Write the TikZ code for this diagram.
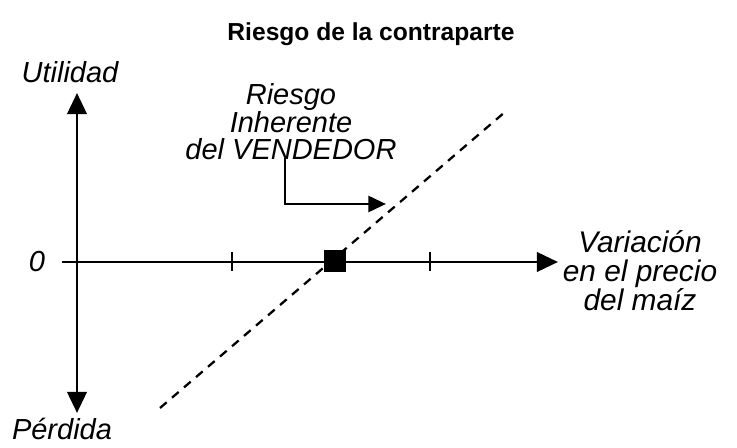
\documentclass[tikz,border=0pt]{standalone}
\usepackage{fontspec}
\setmainfont{Liberation Sans}
\usetikzlibrary{arrows.meta}
\tikzset{
  lbl/.style={font=\fontsize{16.5}{15}\selectfont\itshape,align=center,inner sep=0pt},
  axis/.style={line width=1.7pt},
}
\begin{document}
\begin{tikzpicture}[x=0.02cm,y=-0.02cm,>={Triangle[length=12pt,width=11pt]}]
  \useasboundingbox (0,0) rectangle (737,448);
  \node[font=\fontsize{14}{16}\selectfont\bfseries] (title) at (371,34) {Riesgo de la contraparte};
  % axes
  \coordinate (o) at (77,262);
  \coordinate (top) at (77,93);
  \coordinate (bot) at (77,413);
  \coordinate (left) at (62,262);
  \coordinate (right) at (558,262);
  \draw[axis,->] (o) -- (top);
  \draw[axis,->] (o) -- (bot);
  \draw[axis,->] (left) -- (right);
  \node[lbl] (util) at (70,72) {Utilidad};
  \node[lbl] (perd) at (62,429) {Pérdida};
  \node[lbl] (zero) at (37,262) {0};
  \node[lbl,anchor=north,font=\fontsize{17}{16.5}\selectfont\itshape] (var) at (640,230) {Variación\\en el precio\\del maíz};
  % ticks
  \foreach \t in {232,430}
    \draw[axis] (\t,252) -- (\t,271);
  \node[fill=black,minimum size=12pt,inner sep=0pt] (sq) at (335,261) {};
  % seller line
  \coordinate (d1) at (160,408);
  \coordinate (d2) at (505,112);
  \draw[line width=1.3pt,dash pattern=on 5pt off 4pt] (d1) -- (d2);
  \node[lbl,anchor=south] (seller) at (291,160) {Riesgo\\Inherente\\del VENDEDOR};
  \coordinate (bend) at (285,204);
  \coordinate (tip) at (386,204);
  \draw[axis,->,>={Triangle[length=10pt,width=9pt]}] (285,158) -- (bend) -- (tip);
\end{tikzpicture}
\end{document}
